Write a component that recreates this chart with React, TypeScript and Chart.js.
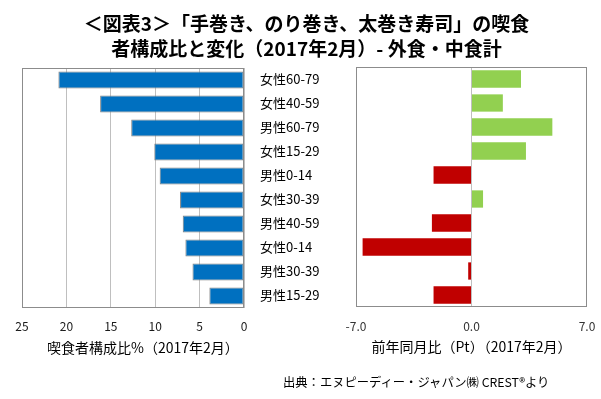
import React, { useEffect, useRef } from "react";
import { Chart, registerables } from "chart.js";

Chart.register(...registerables);

const FONT = "'Noto Sans CJK JP', 'Noto Sans', sans-serif";

const categories = [
  "女性60-79",
  "女性40-59",
  "男性60-79",
  "女性15-29",
  "男性0-14",
  "女性30-39",
  "男性40-59",
  "女性0-14",
  "男性30-39",
  "男性15-29",
];
const shareValues = [20.9, 16.2, 12.7, 10.1, 9.5, 7.2, 6.9, 6.6, 5.8, 3.9];
const changeValues = [3.0, 1.9, 4.9, 3.3, -2.3, 0.7, -2.4, -6.6, -0.2, -2.3];
const shareTicks = [0, 5, 10, 15, 20, 25];
const changeTicks = [-7, 0, 7];

const titleLines = [
  "＜図表3＞「手巻き、のり巻き、太巻き寿司」の喫食",
  "者構成比と変化（2017年2月）- 外食・中食計",
];
const shareAxisTitle = "喫食者構成比%（2017年2月）";
const changeAxisTitle = "前年同月比（Pt）（2017年2月）";
const sourceText = "出典：エヌピーディー・ジャパン㈱ CREST®より";

const framePlugin = {
  id: "frame",
  afterDatasetsDraw(chart: any) {
    const { ctx, chartArea } = chart;
    const l = Math.round(chartArea.left) + 0.5;
    const t = Math.round(chartArea.top) + 0.5;
    const r = Math.round(chartArea.right) - 0.5;
    const b = Math.round(chartArea.bottom) - 0.5;
    ctx.save();
    ctx.strokeStyle = "#8C8C8C";
    ctx.lineWidth = 1;
    ctx.strokeRect(l, t, r - l, b - t);
    ctx.restore();
  },
};

function ShareChart() {
  const ref = useRef<HTMLCanvasElement>(null);
  useEffect(() => {
    const chart = new Chart(ref.current!, {
      type: "bar",
      data: {
        labels: categories,
        datasets: [
          {
            data: shareValues,
            backgroundColor: "#0070C0",
            borderColor: "#7F7F7F",
            borderWidth: 1,
            borderSkipped: false,
            barPercentage: 0.71,
            categoryPercentage: 1,
          },
        ],
      },
      options: {
        indexAxis: "y",
        animation: false,
        responsive: false,
        layout: { padding: { left: 22, right: 6, top: 68, bottom: 41 } },
        plugins: { legend: { display: false }, tooltip: { enabled: false } },
        scales: {
          y: { display: false },
          x: {
            reverse: true,
            min: 0,
            max: 25,
            afterBuildTicks: (s: any) => {
              s.ticks = shareTicks.map((v) => ({ value: v }));
            },
            afterFit: (s: any) => {
              s.height = 50;
            },
            border: { display: false },
            grid: { color: "#BFBFBF", drawTicks: false, lineWidth: 1 },
            ticks: {
              padding: 11,
              maxRotation: 0,
              color: "#1A1A1A",
              font: { family: FONT, size: 12 },
            },
            title: { display: false, text: shareAxisTitle },
          },
        },
      },
      plugins: [framePlugin],
    });
    return () => chart.destroy();
  }, []);
  return (
    <canvas
      ref={ref}
      width={250}
      height={399}
      style={{ position: "absolute", left: 0, top: 0, width: 250, height: 399 }}
    />
  );
}

function ChangeChart() {
  const ref = useRef<HTMLCanvasElement>(null);
  useEffect(() => {
    const chart = new Chart(ref.current!, {
      type: "bar",
      data: {
        labels: categories,
        datasets: [
          {
            data: changeValues,
            backgroundColor: changeValues.map((v) => (v >= 0 ? "#92D050" : "#C00000")),
            borderWidth: 0,
            barPercentage: 0.72,
            categoryPercentage: 1,
          },
        ],
      },
      options: {
        indexAxis: "y",
        animation: false,
        responsive: false,
        layout: { padding: { left: 10, right: 14, top: 67, bottom: 42 } },
        plugins: { legend: { display: false }, tooltip: { enabled: false } },
        scales: {
          y: {
            afterFit: (s: any) => {
              s.width = 96;
            },
            border: { display: false },
            grid: { display: false },
            ticks: {
              crossAlign: "far",
              padding: 0,
              color: "#000",
              font: { family: FONT, size: 13 },
            },
          },
          x: {
            min: -7,
            max: 7,
            afterBuildTicks: (s: any) => {
              s.ticks = changeTicks.map((v) => ({ value: v }));
            },
            afterFit: (s: any) => {
              s.height = 50;
            },
            border: { display: false },
            grid: {
              drawTicks: true,
              tickLength: 12,
              tickColor: "rgba(0,0,0,0)",
              color: (c: any) => (c.tick && c.tick.value === 0 ? "#BFBFBF" : "rgba(0,0,0,0)"),
            },
            ticks: {
              padding: 0,
              maxRotation: 0,
              color: "#333",
              font: { family: FONT, size: 12 },
              callback: (v: any) => Number(v).toFixed(1),
            },
            title: {
              display: true,
              text: changeAxisTitle,
              color: "#000",
              font: { family: FONT, size: 14 },
              padding: { top: 0, bottom: 2 },
            },
          },
        },
      },
      plugins: [framePlugin],
    });
    return () => chart.destroy();
  }, []);
  return (
    <canvas
      ref={ref}
      width={351}
      height={399}
      style={{ position: "absolute", left: 250, top: 0, width: 351, height: 399 }}
    />
  );
}

export default function App() {
  return (
    <div
      style={{
        position: "fixed",
        left: 0,
        top: 0,
        width: 601,
        height: 399,
        background: "#fff",
        fontFamily: FONT,
        overflow: "hidden",
      }}
    >
      <ShareChart />
      <ChangeChart />
      <div
        style={{
          position: "absolute",
          left: 6,
          top: 10,
          width: 601,
          textAlign: "center",
          fontWeight: "bold",
          fontSize: 19,
          lineHeight: "25px",
          color: "#000",
          whiteSpace: "nowrap",
        }}
      >
        {titleLines[0]}
        <br />
        {titleLines[1]}
      </div>
      <div
        style={{
          position: "absolute",
          left: 47,
          top: 338,
          fontSize: 14,
          lineHeight: "18px",
          color: "#000",
          whiteSpace: "nowrap",
        }}
      >
        {shareAxisTitle}
      </div>
      <div
        style={{
          position: "absolute",
          left: 283,
          top: 374,
          fontSize: 12.3,
          lineHeight: "16px",
          color: "#000",
          whiteSpace: "nowrap",
        }}
      >
        {sourceText}
      </div>
    </div>
  );
}
